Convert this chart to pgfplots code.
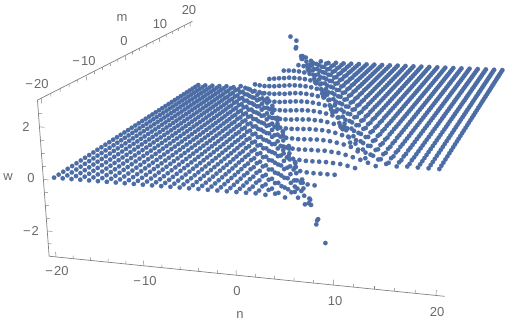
\documentclass[border=0pt]{standalone}
\usepackage{pgfplots}
\usepackage{pgfplotstable}
\usepackage{fontspec}
\setmainfont{Liberation Sans}
\pgfplotsset{compat=1.18}
\definecolor{dotblue}{RGB}{75,108,165}
\definecolor{frame}{RGB}{128,128,128}
\definecolor{labs}{RGB}{105,105,105}

% w(n,m): first column m, then n=-20..20; nan = outside the plotted range
\pgfplotstableread[header=false]{
-20 0 0 0 0 0 0 0 0 0 0 0 0 0 0 0 0 0 0 0 0 0 0 0.01 -0.02 0.05 -0.06 0.17 -0.25 0.46 -1.6 0.89 2.6 1.18 1.55 1.30 1.40 1.34 1.36 1.35 1.35 1.35
-19 0 0 0 0 0 0 0 0 0 0 0 0 0 0 0 0 0 0 0 0 0 0.01 -0.01 0.04 -0.04 0.12 -0.16 0.35 -0.89 0.77 nan 1.12 1.66 1.28 1.42 1.33 1.37 1.34 1.35 1.35 1.35
-18 0 0 0 0 0 0 0 0 0 0 0 0 0 0 0 0 0 0 0 0 0 -0.01 0.03 -0.03 0.09 -0.11 0.27 -0.52 0.65 nan 1.05 1.84 1.25 1.46 1.32 1.38 1.34 1.36 1.35 1.35 1.35
-17 0 0 0 0 0 0 0 0 0 0 0 0 0 0 0 0 0 0 0 0 0 0.02 -0.02 0.06 -0.08 0.21 -0.33 0.53 nan 0.95 2.19 1.21 1.51 1.31 1.39 1.34 1.36 1.35 1.35 1.35 1.35
-16 0 0 0 0 0 0 0 0 0 0 0 0 0 0 0 0 0 0 0 0 0.01 -0.01 0.04 -0.05 0.15 -0.21 0.42 -1.35 0.85 2.97 1.16 1.59 1.29 1.41 1.33 1.37 1.34 1.35 1.35 1.35 1.35
-15 0 0 0 0 0 0 0 0 0 0 0 0 0 0 0 0 0 0 0 0.01 -0.01 0.03 -0.04 0.11 -0.14 0.33 -0.72 0.73 nan 1.10 1.72 1.27 1.43 1.33 1.37 1.34 1.36 1.35 1.35 1.35 1.35
-14 0 0 0 0 0 0 0 0 0 0 0 0 0 0 0 0 0 0 0 -0.01 0.02 -0.03 0.08 -0.09 0.25 -0.44 0.61 nan 1.01 1.94 1.24 1.47 1.32 1.38 1.34 1.36 1.35 1.35 1.35 1.35 1.35
-13 0 0 0 0 0 0 0 0 0 0 0 0 0 0 0 0 0 0 0 0.02 -0.02 0.06 -0.07 0.18 -0.28 0.49 -1.92 0.92 2.40 1.20 1.53 1.30 1.40 1.34 1.36 1.35 1.35 1.35 1.35 1.35 1.35
-12 0 0 0 0 0 0 0 0 0 0 0 0 0 0 0 0 0 0 0.01 -0.01 0.04 -0.05 0.13 -0.18 0.39 -1.07 0.80 nan 1.14 1.63 1.28 1.42 1.33 1.37 1.34 1.35 1.35 1.35 1.35 1.35 1.35
-11 0 0 0 0 0 0 0 0 0 0 0 0 0 0 0 0 0 0.01 -0.01 0.03 -0.03 0.10 -0.12 0.30 -0.60 0.69 nan 1.07 1.78 1.26 1.45 1.32 1.38 1.34 1.36 1.35 1.35 1.35 1.35 1.35 1.35
-10 0 0 0 0 0 0 0 0 0 0 0 0 0 0 0 0 0 0 0.02 -0.02 0.07 -0.08 0.22 -0.37 0.57 nan 0.98 2.07 1.22 1.49 1.31 1.39 1.34 1.36 1.35 1.35 1.35 1.35 1.35 1.35 1.35
-9 0 0 0 0 0 0 0 0 0 0 0 0 0 0 0 0 0 0.01 -0.02 0.05 -0.06 0.16 -0.24 0.45 -1.65 0.88 2.68 1.18 1.56 1.30 1.40 1.34 1.36 1.35 1.35 1.35 1.35 1.35 1.35 1.35 1.35
-8 0 0 0 0 0 0 0 0 0 0 0 0 0 0 0 0 0.01 -0.01 0.04 -0.04 0.12 -0.16 0.35 -0.85 0.76 nan 1.12 1.67 1.28 1.42 1.33 1.37 1.34 1.36 1.35 1.35 1.35 1.35 1.35 1.35 1.35
-7 0 0 0 0 0 0 0 0 0 0 0 0 0 0 0 0 -0.01 0.02 -0.03 0.08 -0.10 0.27 -0.49 0.64 nan 1.04 1.87 1.25 1.46 1.32 1.38 1.34 1.36 1.35 1.35 1.35 1.35 1.35 1.35 1.35 1.35
-6 0 0 0 0 0 0 0 0 0 0 0 0 0 0 0 0 0.02 -0.02 0.06 -0.07 0.20 -0.32 0.52 nan 0.94 2.24 1.21 1.51 1.31 1.39 1.34 1.36 1.35 1.35 1.35 1.35 1.35 1.35 1.35 1.35 1.35
-5 0 0 0 0 0 0 0 0 0 0 0 0 0 0 0 0.01 -0.01 0.04 -0.05 0.15 -0.21 0.42 -1.26 0.84 nan 1.16 1.60 1.29 1.41 1.33 1.37 1.34 1.35 1.35 1.35 1.35 1.35 1.35 1.35 1.35 1.35
-4 0 0 0 0 0 0 0 0 0 0 0 0 0 0 0.01 -0.01 0.03 -0.04 0.11 -0.14 0.32 -0.69 0.72 nan 1.09 1.73 1.27 1.44 1.33 1.37 1.34 1.36 1.35 1.35 1.35 1.35 1.35 1.35 1.35 1.35 1.35
-3 0 0 0 0 0 0 0 0 0 0 0 0 0 0 -0.01 0.02 -0.03 0.08 -0.09 0.24 -0.42 0.60 nan 1.00 1.97 1.23 1.48 1.32 1.38 1.34 1.36 1.35 1.35 1.35 1.35 1.35 1.35 1.35 1.35 1.35 1.35
-2 0 0 0 0 0 0 0 0 0 0 0 0 0 0 0.01 -0.02 0.05 -0.06 0.18 -0.27 0.48 -2.08 0.91 2.45 1.19 1.54 1.30 1.40 1.34 1.36 1.35 1.35 1.35 1.35 1.35 1.35 1.35 1.35 1.35 1.35 1.35
-1 0 0 0 0 0 0 0 0 0 0 0 0 0 0.01 -0.01 0.04 -0.04 0.13 -0.18 0.38 -1.00 0.79 nan 1.13 1.64 1.28 1.42 1.33 1.37 1.35 1.35 1.35 1.35 1.35 1.35 1.35 1.35 1.35 1.35 1.35 1.35
0 0 0 0 0 0 0 0 0 0 0 0 0 0.01 -0.01 0.03 -0.03 0.09 -0.12 0.29 -0.57 0.68 nan 1.06 1.80 1.26 1.45 1.32 1.38 1.34 1.36 1.35 1.35 1.35 1.35 1.35 1.35 1.35 1.35 1.35 1.35 1.35
1 0 0 0 0 0 0 0 0 0 0 0 0 0 0.02 -0.02 0.07 -0.08 0.21 -0.35 0.55 nan 0.97 2.11 1.22 1.50 1.31 1.39 1.34 1.36 1.35 1.35 1.35 1.35 1.35 1.35 1.35 1.35 1.35 1.35 1.35 1.35
2 0 0 0 0 0 0 0 0 0 0 0 0 0.01 -0.02 0.05 -0.06 0.16 -0.23 0.44 -1.60 0.87 2.77 1.17 1.57 1.30 1.40 1.34 1.36 1.35 1.35 1.35 1.35 1.35 1.35 1.35 1.35 1.35 1.35 1.35 1.35 1.35
3 0 0 0 0 0 0 0 0 0 0 0 0.01 -0.01 0.03 -0.04 0.11 -0.15 0.34 -0.80 0.75 nan 1.11 1.69 1.27 1.43 1.33 1.37 1.34 1.35 1.35 1.35 1.35 1.35 1.35 1.35 1.35 1.35 1.35 1.35 1.35 1.35
4 0 0 0 0 0 0 0 0 0 0 0 -0.01 0.02 -0.03 0.08 -0.10 0.26 -0.48 0.63 nan 1.03 1.89 1.25 1.47 1.32 1.38 1.34 1.36 1.35 1.35 1.35 1.35 1.35 1.35 1.35 1.35 1.35 1.35 1.35 1.35 1.35
5 0 0 0 0 0 0 0 0 0 0 0 0.02 -0.02 0.06 -0.07 0.19 -0.30 0.51 -2.80 0.94 2.28 1.20 1.52 1.31 1.39 1.34 1.36 1.35 1.35 1.35 1.35 1.35 1.35 1.35 1.35 1.35 1.35 1.35 1.35 1.35 1.35
6 0 0 0 0 0 0 0 0 0 0 0.01 -0.01 0.04 -0.05 0.14 -0.20 0.41 -1.19 0.83 nan 1.15 1.61 1.29 1.41 1.33 1.37 1.34 1.35 1.35 1.35 1.35 1.35 1.35 1.35 1.35 1.35 1.35 1.35 1.35 1.35 1.35
7 0 0 0 0 0 0 0 0 0 0.01 -0.01 0.03 -0.03 0.10 -0.13 0.31 -0.65 0.71 nan 1.08 1.75 1.26 1.44 1.32 1.37 1.34 1.36 1.35 1.35 1.35 1.35 1.35 1.35 1.35 1.35 1.35 1.35 1.35 1.35 1.35 1.35
8 0 0 0 0 0 0 0 0 0 0 0.02 -0.02 0.07 -0.09 0.23 -0.40 0.59 nan 1.00 2.00 1.23 1.48 1.32 1.38 1.34 1.36 1.35 1.35 1.35 1.35 1.35 1.35 1.35 1.35 1.35 1.35 1.35 1.35 1.35 1.35 1.35
9 0 0 0 0 0 0 0 0 0 0.01 -0.02 0.05 -0.06 0.17 -0.26 0.47 -1.93 0.90 2.53 1.19 1.55 1.30 1.40 1.34 1.36 1.35 1.35 1.35 1.35 1.35 1.35 1.35 1.35 1.35 1.35 1.35 1.35 1.35 1.35 1.35 1.35
10 0 0 0 0 0 0 0 0 0.01 -0.01 0.04 -0.04 0.13 -0.17 0.37 -0.94 0.78 nan 1.13 1.65 1.28 1.42 1.33 1.37 1.34 1.35 1.35 1.35 1.35 1.35 1.35 1.35 1.35 1.35 1.35 1.35 1.35 1.35 1.35 1.35 1.35
11 0 0 0 0 0 0 0 0 -0.01 0.03 -0.03 0.09 -0.12 0.28 -0.55 0.65 nan 1.05 1.82 1.25 1.45 1.32 1.38 1.34 1.36 1.35 1.35 1.35 1.35 1.35 1.35 1.35 1.35 1.35 1.35 1.35 1.35 1.35 1.35 1.35 1.35
12 0 0 0 0 0 0 0 0 0.02 -0.02 0.07 -0.08 0.21 -0.34 0.55 nan 0.96 2.15 1.22 1.50 1.31 1.39 1.34 1.36 1.35 1.35 1.35 1.35 1.35 1.35 1.35 1.35 1.35 1.35 1.35 1.35 1.35 1.35 1.35 1.35 1.35
13 0 0 0 0 0 0 0 0.01 -0.01 0.05 -0.05 0.15 -0.22 0.43 -1.47 0.86 2.87 1.17 1.58 1.29 1.41 1.33 1.37 1.34 1.35 1.35 1.35 1.35 1.35 1.35 1.35 1.35 1.35 1.35 1.35 1.35 1.35 1.35 1.35 1.35 1.35
14 0 0 0 0 0 0 0.01 -0.01 0.03 -0.04 0.11 -0.15 0.34 -0.76 0.74 nan 1.10 1.70 1.27 1.43 1.33 1.37 1.34 1.36 1.35 1.35 1.35 1.35 1.35 1.35 1.35 1.35 1.35 1.35 1.35 1.35 1.35 1.35 1.35 1.35 1.35
15 0 0 0 0 0 0 -0.01 0.02 -0.03 0.08 -0.10 0.25 -0.46 0.62 nan 1.02 1.91 1.24 1.47 1.32 1.38 1.34 1.36 1.35 1.35 1.35 1.35 1.35 1.35 1.35 1.35 1.35 1.35 1.35 1.35 1.35 1.35 1.35 1.35 1.35 1.35
16 0 0 0 0 0 0 0.01 -0.02 0.06 -0.07 0.19 -0.29 0.50 -2.48 0.93 2.34 1.20 1.53 1.31 1.39 1.34 1.36 1.35 1.35 1.35 1.35 1.35 1.35 1.35 1.35 1.35 1.35 1.35 1.35 1.35 1.35 1.35 1.35 1.35 1.35 1.35
17 0 0 0 0 0 0.01 -0.01 0.04 -0.05 0.14 -0.19 0.40 -1.13 0.81 nan 1.15 1.62 1.29 1.41 1.33 1.37 1.34 1.35 1.35 1.35 1.35 1.35 1.35 1.35 1.35 1.35 1.35 1.35 1.35 1.35 1.35 1.35 1.35 1.35 1.35 1.35
18 0 0 0 0 0.01 -0.01 0.03 -0.03 0.10 -0.13 0.30 -0.62 0.70 nan 1.08 1.77 1.26 1.44 1.32 1.37 1.34 1.36 1.35 1.35 1.35 1.35 1.35 1.35 1.35 1.35 1.35 1.35 1.35 1.35 1.35 1.35 1.35 1.35 1.35 1.35 1.35
19 0 0 0 0 0 0.02 -0.02 0.07 -0.09 0.23 -0.38 0.58 nan 0.99 2.04 1.23 1.49 1.31 1.39 1.34 1.36 1.35 1.35 1.35 1.35 1.35 1.35 1.35 1.35 1.35 1.35 1.35 1.35 1.35 1.35 1.35 1.35 1.35 1.35 1.35 1.35
20 0 0 0 0 0.01 -0.02 0.05 -0.06 0.17 -0.25 0.46 -1.78 0.89 2.50 1.18 1.55 1.30 1.40 1.34 1.36 1.35 1.35 1.35 1.35 1.35 1.35 1.35 1.35 1.35 1.35 1.35 1.35 1.35 1.35 1.35 1.35 1.35 1.35 1.35 1.35 1.35
}\wgrid

\begin{document}
\begin{tikzpicture}[
    declare function={
      dd(\n,\m,\w)=1-0.00227*\n+0.0066*\m-0.0052*\w;
      sx(\n,\m,\w)=(297.2+7.79*\n+4.6*\m-2*\w)/dd(\n,\m,\w);
      sy(\n,\m,\w)=325-(135.6+0.22*\n-1.553*\m-24.6*\w)/dd(\n,\m,\w);
    },
    lab/.style={text=labs,font=\fontsize{13}{13}\selectfont,inner sep=0pt,anchor=center},
  ]
\begin{axis}[
    scale only axis,
    width=514pt,
    height=325pt,
    xmin=0, xmax=514,
    ymin=0, ymax=325,
    hide axis,
    clip=false,
  ]
  % the dots, one plot per n column
  \pgfplotsinvokeforeach{1,...,41}{
    \addplot[only marks,mark=*,mark size=2.25pt,mark options={draw=dotblue,fill=dotblue,line width=0.1pt}]
      table[x expr={sx(#1-21,\thisrowno{0},\thisrowno{#1})},
            y expr={sy(#1-21,\thisrowno{0},\thisrowno{#1})}] {\wgrid};
  }
  % box edges
  \addplot[frame,line width=0.7pt] table[row sep=\\,x expr={sx(\thisrow{n},\thisrow{m},\thisrow{w})},y expr={sy(\thisrow{n},\thisrow{m},\thisrow{w})}]
    {n m w\\ -20.8 20.8 3\\ -20.8 -20.8 3\\ -20.8 -20.8 -3\\ 20.8 -20.8 -3\\};
  % n and m ticks
  \pgfplotsinvokeforeach{-18,-16,-14,-12,-8,-6,-4,-2,2,4,6,8,12,14,16,18}{
    \addplot[frame,line width=0.5pt] table[row sep=\\,x expr={sx(\thisrow{n},\thisrow{m},\thisrow{w})},y expr={sy(\thisrow{n},\thisrow{m},\thisrow{w})}]
      {n m w\\ #1 -20.8 -3\\ #1 -20.8 -2.88\\};
    \addplot[frame,line width=0.5pt] table[row sep=\\,x expr={sx(\thisrow{n},\thisrow{m},\thisrow{w})},y expr={sy(\thisrow{n},\thisrow{m},\thisrow{w})}]
      {n m w\\ -20.8 #1 3\\ -20.8 #1 2.88\\};
  }
  \pgfplotsinvokeforeach{-20,-10,0,10,20}{
    \addplot[frame,line width=0.5pt] table[row sep=\\,x expr={sx(\thisrow{n},\thisrow{m},\thisrow{w})},y expr={sy(\thisrow{n},\thisrow{m},\thisrow{w})}]
      {n m w\\ #1 -20.8 -3\\ #1 -20.8 -2.8\\};
    \addplot[frame,line width=0.5pt] table[row sep=\\,x expr={sx(\thisrow{n},\thisrow{m},\thisrow{w})},y expr={sy(\thisrow{n},\thisrow{m},\thisrow{w})}]
      {n m w\\ -20.8 #1 3\\ -20.8 #1 2.8\\};
  }
  % w ticks
  \pgfplotsinvokeforeach{-2,0,2}{
    \addplot[frame,line width=0.5pt] table[row sep=\\,x expr={sx(\thisrow{n},\thisrow{m},\thisrow{w})},y expr={sy(\thisrow{n},\thisrow{m},\thisrow{w})}]
      {n m w\\ -20.8 -20.8 #1\\ -20.2 -20.8 #1\\};
  }
  \pgfplotsinvokeforeach{-2.5,-1.5,-1,-0.5,0.5,1,1.5,2.5}{
    \addplot[frame,line width=0.5pt] table[row sep=\\,x expr={sx(\thisrow{n},\thisrow{m},\thisrow{w})},y expr={sy(\thisrow{n},\thisrow{m},\thisrow{w})}]
      {n m w\\ -20.8 -20.8 #1\\ -20.4 -20.8 #1\\};
  }
  % labels, placed in picture pixels
  \node[lab] at (axis cs:57,54) {−\kern1pt 20};
  \node[lab] at (axis cs:145,44) {−\kern1pt 10};
  \node[lab] at (axis cs:237,34) {0};
  \node[lab] at (axis cs:335,24) {10};
  \node[lab] at (axis cs:437,13) {20};
  \node[lab] at (axis cs:240,10) {n};
  \node[lab] at (axis cs:37,241) {−\kern1pt 20};
  \node[lab] at (axis cs:84,264) {−\kern1pt 10};
  \node[lab] at (axis cs:124,284) {0};
  \node[lab] at (axis cs:160,301) {10};
  \node[lab] at (axis cs:189,315) {20};
  \node[lab] at (axis cs:122,307) {m};
  \node[lab] at (axis cs:26,198) {2};
  \node[lab] at (axis cs:31,147) {0};
  \node[lab] at (axis cs:31,94) {−\kern1pt 2};
  \node[lab] at (axis cs:8,148) {w};
  \path[use as bounding box] (axis cs:0,0) rectangle (axis cs:514,325);
\end{axis}
\end{tikzpicture}
\end{document}
